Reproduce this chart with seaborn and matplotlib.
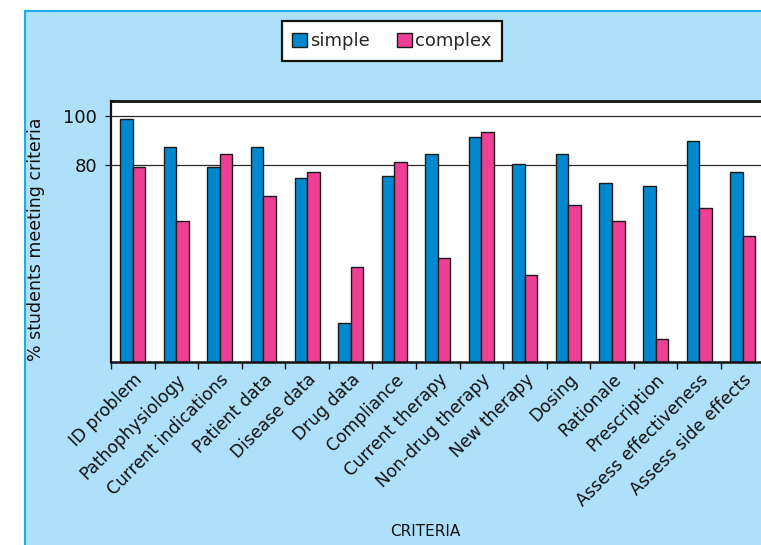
import matplotlib
matplotlib.use("Agg")
import matplotlib.pyplot as plt
from matplotlib.patches import Rectangle, Patch
import numpy as np
import pandas as pd
import seaborn as sns

# Criteria and the share of students meeting each one, per case type
criteria = [
    "ID problem", "Pathophysiology", "Current indications", "Patient data",
    "Disease data", "Drug data", "Compliance", "Current therapy",
    "Non-drug therapy", "New therapy", "Dosing", "Rationale",
    "Prescription", "Assess effectiveness", "Assess side effects",
]
simple = [98.5, 87.4, 79.1, 87.4, 74.6, 15.9, 75.3, 84.3,
          91.4, 80.4, 84.3, 72.6, 71.4, 89.5, 77.3]
complex_ = [79.1, 57.2, 84.3, 67.4, 77.3, 38.5, 81.1, 42.4,
            93.3, 35.3, 63.7, 57.2, 9.6, 62.4, 51.3]
series = ["simple", "complex"]
y_ticks = [80, 100]

BLUE = "#0088CE"
PINK = "#EE3F95"
PANEL = "#AEE1F9"
PANEL_EDGE = "#1AAEEA"

df = pd.DataFrame({
    "criterion": criteria * 2,
    "value": simple + complex_,
    "case": [series[0]] * len(criteria) + [series[1]] * len(criteria),
})

sns.set_theme(style="white")
plt.rcParams["font.family"] = ["DejaVu Sans"]

W, H = 761, 545
fig = plt.figure(figsize=(W / 100, H / 100), dpi=100, facecolor="white")

# light blue panel behind everything, with a thin border on its top and left
fig.patches.append(Rectangle((24.5 / W, -0.05), 1.2, (545 - 10.5) / H + 0.05,
                             transform=fig.transFigure, facecolor=PANEL,
                             edgecolor=PANEL_EDGE, linewidth=1.5, zorder=-10))

ax_left, ax_right, ax_bottom, ax_top = 111, 764.5, 182.7, 444.3
ax = fig.add_axes([ax_left / W, ax_bottom / H,
                   (ax_right - ax_left) / W, (ax_top - ax_bottom) / H])
ax.set_facecolor("white")

sns.barplot(data=df, x="criterion", y="value", hue="case", hue_order=series,
            palette=[BLUE, PINK], width=0.575, gap=0, dodge=True,
            edgecolor="#1a1a1a", linewidth=1.0, saturation=1, legend=False,
            ax=ax)

ax.set_xlim(-0.5, len(criteria) - 0.5)
ax.set_ylim(0, 106)

# horizontal reference lines
for v in y_ticks:
    ax.axhline(v, color="#2a2a2a", linewidth=0.9, zorder=0.5)

ax.set_yticks(y_ticks)
ax.set_yticklabels([str(v) for v in y_ticks], fontsize=13, color="#111111")
ax.tick_params(axis="y", which="major", direction="out", length=4, width=0.9,
               color="#111111", left=True, pad=6)

# category labels at bar centres, tick marks between groups
ax.set_xticks(np.arange(len(criteria)))
ax.set_xticklabels(criteria, rotation=45, ha="right", rotation_mode="anchor",
                   fontsize=12.3, color="#111111")
ax.tick_params(axis="x", which="major", length=0, pad=6)
ax.set_xticks(np.arange(len(criteria) + 1) - 0.5, minor=True)
ax.tick_params(axis="x", which="minor", direction="out", length=5, width=1,
               color="#111111", bottom=True)

for side, lw in [("top", 2.0), ("left", 1.6), ("bottom", 1.8)]:
    ax.spines[side].set_visible(True)
    ax.spines[side].set_color("#111111")
    ax.spines[side].set_linewidth(lw)
ax.spines["right"].set_visible(False)

ax_w = ax_right - ax_left
ax_h = ax_top - ax_bottom
ax.set_ylabel("% students meeting criteria", fontsize=12.5, color="#111111")
ax.yaxis.set_label_coords(-(ax_left - 45) / ax_w, 0.5 - 8 / ax_h)

ax.set_xlabel("CRITERIA", fontsize=11, color="#111111")
ax.xaxis.label.set_verticalalignment("center")
ax.xaxis.set_label_coords((425 - ax_left) / ax_w, -(532 - 362.3) / ax_h)

handles = [Patch(facecolor=BLUE, edgecolor="#1a1a1a", linewidth=1),
           Patch(facecolor=PINK, edgecolor="#1a1a1a", linewidth=1)]
leg = fig.legend(handles, series, loc="center", bbox_to_anchor=(392 / W, 1 - 41 / H),
                 ncol=2, frameon=True, fancybox=False, fontsize=13,
                 handlelength=0.8, handleheight=0.8, handletextpad=0.2,
                 columnspacing=1.5, borderpad=0.6)
leg.get_frame().set_edgecolor("#111111")
leg.get_frame().set_linewidth(1.6)
leg.get_frame().set_facecolor("white")
leg.get_frame().set_alpha(1)

fig.savefig("out.png", dpi=100, facecolor=fig.get_facecolor())
